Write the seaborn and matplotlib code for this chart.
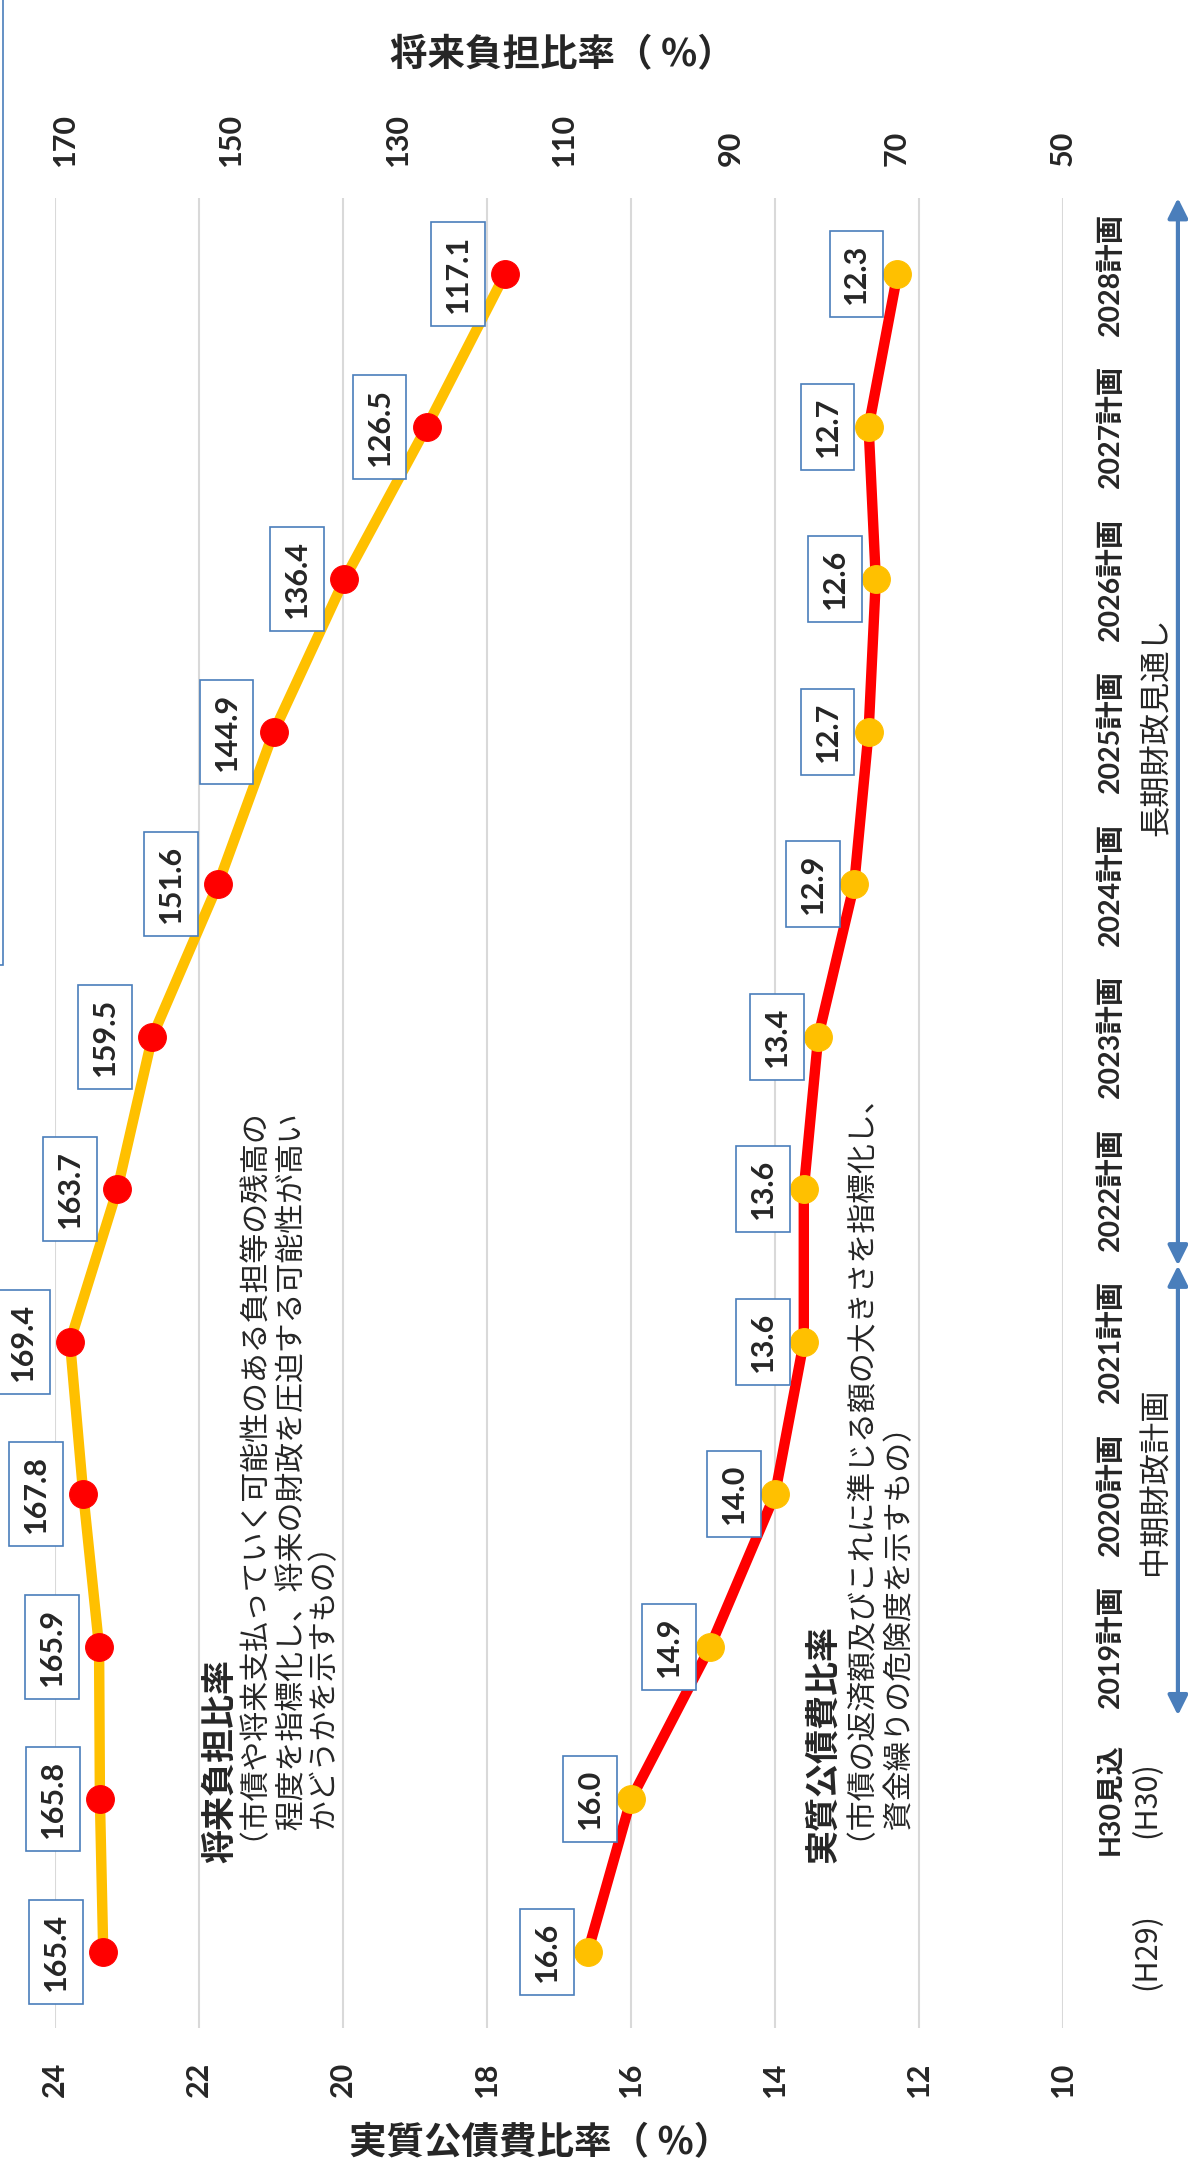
import numpy as np
import pandas as pd
import matplotlib
matplotlib.use("Agg")
import matplotlib.pyplot as plt
import matplotlib.transforms as mtransforms
from matplotlib.patches import Rectangle
import seaborn as sns

# ---- data -------------------------------------------------------------
periods = ["", "H30見込", "2019計画", "2020計画", "2021計画", "2022計画",
           "2023計画", "2024計画", "2025計画", "2026計画", "2027計画", "2028計画"]
period_notes = ["(H29)", "(H30)", "", "", "", "", "", "", "", "", "", ""]
future_burden_ratio = [165.4, 165.8, 165.9, 167.8, 169.4, 163.7,
                       159.5, 151.6, 144.9, 136.4, 126.5, 117.1]
debt_service_ratio = [16.6, 16.0, 14.9, 14.0, 13.6, 13.6,
                      13.4, 12.9, 12.7, 12.6, 12.7, 12.3]
left_ticks = [24, 22, 20, 18, 16, 14, 12, 10]
right_ticks = [170, 150, 130, 110, 90, 70, 50]

df = pd.DataFrame({
    "pos": np.arange(len(periods)),
    "future": future_burden_ratio,
    "debt": debt_service_ratio,
})

# ---- style ------------------------------------------------------------
sns.set_style("white")
NUM_FONT = ["Lato", "Noto Sans CJK JP", "DejaVu Sans"]
JP_FONT = ["Noto Sans CJK JP", "DejaVu Sans"]
plt.rcParams["font.family"] = NUM_FONT

YELLOW = "#FFC000"
RED = "#FF0000"
BLUE = "#4A7EBB"
GRID = "#D9D9D9"

W, H = 1188, 2172
fig = plt.figure(figsize=(W / 100, H / 100), dpi=100, facecolor="white")


def fpx(x, y):
    return x / W, 1 - y / H


ax = fig.add_axes([55 / W, 1 - 2028 / H, 1008 / W, 1830 / H])
ax2 = ax.twiny()

# 実質公債費比率 (left scale)
sns.lineplot(data=df, x="debt", y="pos", ax=ax, sort=False, estimator=None,
             orient="y", color=RED, linewidth=7.5, marker="o", markersize=20,
             markerfacecolor=YELLOW, markeredgecolor=YELLOW, legend=False,
             zorder=3)
# 将来負担比率 (right scale)
sns.lineplot(data=df, x="future", y="pos", ax=ax2, sort=False, estimator=None,
             orient="y", color=YELLOW, linewidth=7.5, marker="o", markersize=20,
             markerfacecolor=RED, markeredgecolor=RED, legend=False,
             zorder=3)

ax.set_xlim(24, 10)
ax2.set_xlim(171.2, 50)
ax.set_ylim(-0.5, len(periods) - 0.5)
for a in (ax, ax2):
    a.set_xlabel("")
    a.set_ylabel("")
    for s in a.spines.values():
        s.set_visible(False)

ax.set_xticks(left_ticks)
ax.set_xticklabels([str(t) for t in left_ticks])
ax.grid(axis="x", color=GRID, linewidth=1.5)
ax.grid(axis="y", visible=False)
ax.set_axisbelow(True)
ax.tick_params(axis="x", bottom=True, length=0, labelrotation=90, pad=24,
               labelsize=22)
for lbl in ax.get_xticklabels():
    lbl.set_fontweight("bold")

ax2.set_xticks(right_ticks)
ax2.set_xticklabels([str(t) for t in right_ticks])
ax2.tick_params(axis="x", top=True, length=0, labelrotation=90, pad=23,
                labelsize=22)
for lbl in ax2.get_xticklabels():
    lbl.set_fontweight("bold")

ax.set_yticks(df["pos"])
ax.set_yticklabels(periods)
ax.yaxis.tick_right()
ax.tick_params(axis="y", length=0, labelrotation=90, pad=25, labelsize=20.5)
for lbl in ax.get_yticklabels():
    lbl.set_fontweight("bold")
    lbl.set_va("center")

side = mtransforms.blended_transform_factory(ax.transAxes, ax.transData)
for p, note in zip(df["pos"], period_notes):
    if note:
        ax.text(1.083, p, note, transform=side, rotation=90, ha="center",
                va="center", fontsize=22, family=JP_FONT, clip_on=False)

# value labels
box = dict(boxstyle="square,pad=0.42", fc="white", ec=BLUE, lw=1.2)
for p, v in zip(df["pos"], df["future"]):
    ax2.annotate(f"{v:.1f}", xy=(v, p), xytext=(-34, 0),
                 textcoords="offset points", ha="center", va="center",
                 rotation=90, fontsize=22, fontweight="bold", bbox=box,
                 zorder=5)
for p, v in zip(df["pos"], df["debt"]):
    ax.annotate(f"{v:.1f}", xy=(v, p), xytext=(-29.5, 0),
                textcoords="offset points", ha="center", va="center",
                rotation=90, fontsize=22, fontweight="bold", bbox=box,
                zorder=5)

# period arrows
arrow_style = "<|-|>,head_length=1.0,head_width=0.5"
for y0, y1 in [(4.5, len(periods) - 0.5), (1.55, 4.5)]:
    ax.annotate("", xy=(1.114, y1), xytext=(1.114, y0), xycoords=side,
                textcoords=side, annotation_clip=False,
                arrowprops=dict(arrowstyle=arrow_style, color=BLUE, lw=3,
                                shrinkA=0, shrinkB=0, mutation_scale=12))
fig.text(*fpx(1157, 727), "長期財政見通し", rotation=90, ha="center",
         va="center", fontsize=22.5, family=JP_FONT)
fig.text(*fpx(1156, 1481), "中期財政計画", rotation=90, ha="center",
         va="center", fontsize=22.5, family=JP_FONT)

# axis titles
fig.text(*fpx(540, 2143), "実質公債費比率（ %）", ha="center", va="center",
         fontsize=27, fontweight="bold", family=JP_FONT)
fig.text(*fpx(562, 55), "将来負担比率（ %）", ha="center", va="center",
         fontsize=27, fontweight="bold", family=JP_FONT)


# explanatory notes (baseline-anchored, rotated to read upward); every line
# carries one leading ideographic space so rotated glyph offsets stay uniform
NOTE_SIZE = 21.5
EM = NOTE_SIZE * 100 / 72


def note_block(x_title, lines_x, title, lines, y_start=1860):
    fig.text(*fpx(x_title + 13, y_start + 3), title, rotation=90,
             rotation_mode="anchor", ha="left", va="baseline", fontsize=24.5,
             fontweight="bold", family=JP_FONT)
    for lx, line in zip(lines_x, lines):
        fig.text(*fpx(lx + 11.5, y_start + EM), "　" + line, rotation=90,
                 rotation_mode="anchor", ha="left", va="baseline",
                 fontsize=NOTE_SIZE, family=JP_FONT)


note_block(217, [255, 290, 323], "将来負担比率",
           ["（市債や将来支払っていく可能性のある負担等の残高の",
            "　程度を指標化し、将来の財政を圧迫する可能性が高い",
            "　かどうかを示すもの）"])
note_block(820, [862, 898], "実質公債費比率",
           ["（市債の返済額及びこれに準じる額の大きさを指標化し、",
            "　資金繰りの危険度を示すもの）"])

# edge of neighbouring frame
fig.patches.append(Rectangle(fpx(-50, 965), 52.5 / W, 1100 / H,
                             transform=fig.transFigure, fill=False,
                             ec=BLUE, lw=1.2))

fig.savefig("out.png", dpi=100, facecolor="white")
